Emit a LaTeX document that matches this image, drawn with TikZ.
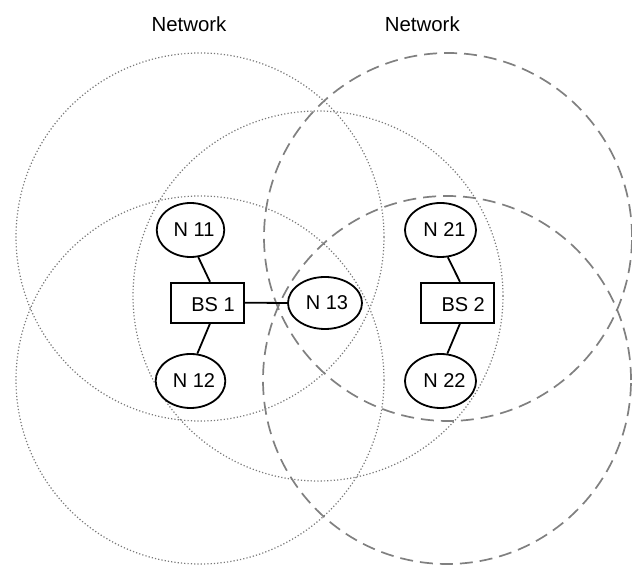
\documentclass[tikz,border=0pt]{standalone}
\usepackage{fontspec}
\setmainfont{Liberation Sans}
\usetikzlibrary{shapes.geometric}
\definecolor{rangegray}{RGB}{128,128,128}
\definecolor{dotgray}{RGB}{120,120,120}
\tikzset{
  range1/.style={draw=dotgray, line width=0.6pt, dash pattern=on 0.6pt off 1.05pt},
  range2/.style={draw=rangegray, line width=0.85pt, dash pattern=on 6.5pt off 3.5pt},
  nodeell/.style={ellipse, draw=black, line width=0.9pt, fill=white, inner sep=0pt,
    minimum width=33.5pt, minimum height=27pt, font=\fontsize{10}{12}\selectfont},
  bsbox/.style={rectangle, draw=black, line width=0.9pt, fill=white, inner sep=0pt,
    minimum width=36.7pt, minimum height=20pt, text height=9.3pt, text depth=0pt,
    font=\fontsize{10}{12}\selectfont},
  link/.style={draw=black, line width=0.9pt},
  netlabel/.style={inner sep=0pt, font=\fontsize{10.2}{12}\selectfont}
}
\begin{document}
\begin{tikzpicture}[x=0.5pt, y=-0.5pt]
\useasboundingbox (0,0) rectangle (632,565);
% coverage ranges
\draw[range1] (200,237) circle[radius=92pt];
\draw[range1] (200,380) circle[radius=92pt];
\draw[range1] (318,296) circle[radius=92.5pt];
\draw[range2] (448,237) circle[radius=92pt];
\draw[range2] (447,380) circle[radius=92pt];
% labels
\node[netlabel] (net1) at (189,24.7) {Network};
\node[netlabel] (net2) at (422.3,24.7) {Network};
% nodes
\node[bsbox] (bs1) at (207.4,302.7) {\hspace*{5.6pt}BS 1};
\node[bsbox] (bs2) at (457.4,302.7) {\hspace*{5.8pt}BS 2};
\node[nodeell] (n11) at (190.5,230) {\hspace*{3.5pt}N 11};
\node[nodeell] (n12) at (190.5,381) {\hspace*{3.5pt}N 12};
\node[nodeell, minimum width=37pt, minimum height=26pt] (n13) at (325,303) {\hspace*{2pt}N 13};
\node[nodeell] (n21) at (440.5,230) {\hspace*{4pt}N 21};
\node[nodeell] (n22) at (440.5,381) {\hspace*{4pt}N 22};
% links
\draw[link] (n11.-74) -- ([xshift=1.3pt]bs1.north);
\draw[link] (n12.76) -- ([xshift=1.3pt]bs1.south);
\draw[link] (bs1.east) -- (n13.west);
\draw[link] (n21.-75) -- ([xshift=1.3pt]bs2.north);
\draw[link] (n22.76) -- ([xshift=1.3pt]bs2.south);
\end{tikzpicture}
\end{document}
